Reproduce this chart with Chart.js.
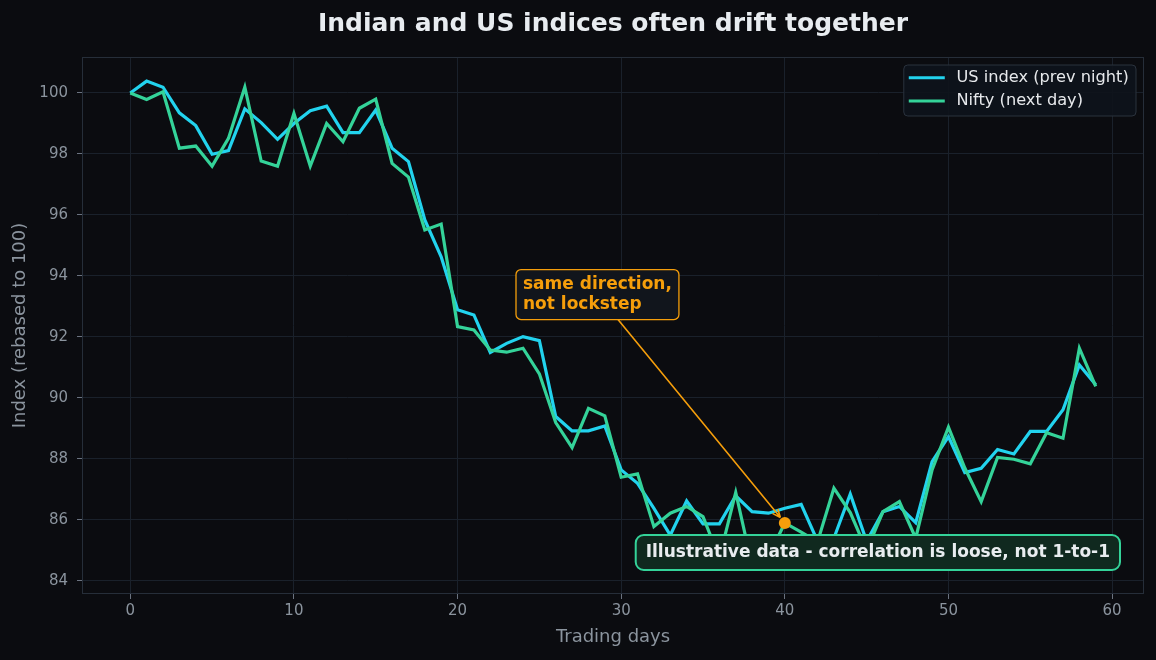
<!DOCTYPE html>
<html>
<head>
<meta charset="utf-8">
<script src="https://cdn.jsdelivr.net/npm/chart.js@4/dist/chart.umd.min.js"></script>
<style>
  html, body { margin: 0; padding: 0; background: #0b0c10; }
  canvas { display: block; }
</style>
</head>
<body>
<canvas id="chart" width="1156" height="660"></canvas>
<script>
// trading day index
const days = [0, 1, 2, 3, 4, 5, 6, 7, 8, 9, 10, 11, 12, 13, 14, 15, 16, 17, 18, 19,
  20, 21, 22, 23, 24, 25, 26, 27, 28, 29, 30, 31, 32, 33, 34, 35, 36, 37, 38, 39,
  40, 41, 42, 43, 44, 45, 46, 47, 48, 49, 50, 51, 52, 53, 54, 55, 56, 57, 58, 59];

// US index (prev night), rebased to 100
const usIndex = [100.0, 100.39, 100.19, 99.35, 98.93, 97.99, 98.11, 99.48, 99.03, 98.48,
  99.0, 99.42, 99.57, 98.70, 98.70, 99.44, 98.19, 97.75, 95.84, 94.63,
  92.89, 92.72, 91.49, 91.79, 92.01, 91.88, 89.39, 88.92, 88.92, 89.08,
  87.64, 87.2, 86.38, 85.5, 86.62, 85.87, 85.87, 86.79, 86.27, 86.22,
  86.38, 86.51, 85.3, 85.4, 86.85, 85.3, 86.27, 86.44, 85.91, 87.91,
  88.73, 87.55, 87.69, 88.31, 88.16, 88.9, 88.9, 89.61, 91.08, 90.43];

// Nifty (next day), rebased to 100
const nifty = [100.0, 99.79, 100.04, 98.19, 98.26, 97.6, 98.51, 100.19, 97.77, 97.6,
  99.33, 97.6, 99.0, 98.40, 99.5, 99.8, 97.69, 97.24, 95.51, 95.70,
  92.34, 92.23, 91.57, 91.50, 91.63, 90.79, 89.19, 88.37, 89.66, 89.41,
  87.40, 87.51, 85.78, 86.22, 86.44, 86.11, 84.75, 86.9, 84.5, 84.8,
  85.9, 85.6, 85.28, 87.04, 86.24, 85.0, 86.27, 86.6, 85.4, 87.64,
  89.04, 87.7, 86.6, 88.05, 87.99, 87.84, 88.86, 88.68, 91.63, 90.38];

const seriesNames = ['US index (prev night)', 'Nifty (next day)'];
const highlightDay = 40;

const FONT = '"DejaVu Sans", sans-serif';
const BLUE = '#22d3ee';
const GREEN = '#34d399';
const ORANGE = '#f59e0b';
const MUTED = '#8b949e';

function roundRect(ctx, x, y, w, h, r) {
  ctx.beginPath();
  ctx.moveTo(x + r, y);
  ctx.arcTo(x + w, y, x + w, y + h, r);
  ctx.arcTo(x + w, y + h, x, y + h, r);
  ctx.arcTo(x, y + h, x, y, r);
  ctx.arcTo(x, y, x + w, y, r);
  ctx.closePath();
}

// background, title, frame, annotations and legend
const decor = {
  id: 'decor',
  beforeDraw(chart) {
    const { ctx, width, height } = chart;
    ctx.save();
    ctx.fillStyle = '#0b0c10';
    ctx.fillRect(0, 0, width, height);
    ctx.restore();
  },
  afterDatasetsDraw(chart) {
    const { ctx, chartArea: a, scales: { x, y } } = chart;
    ctx.save();

    // frame
    ctx.strokeStyle = '#262e39';
    ctx.lineWidth = 1;
    ctx.strokeRect(a.left + 0.5, a.top + 0.5, a.right - a.left - 1, a.bottom - a.top - 1);

    // callout "same direction, not lockstep"
    const px = x.getPixelForValue(highlightDay);
    const py = y.getPixelForValue(nifty[highlightDay]);
    ctx.font = 'bold 17px ' + FONT;
    const lines = ['same direction,', 'not lockstep'];
    const tx = x.getPixelForValue(24.0);
    const tcy = y.getPixelForValue(93.39);
    const tw = Math.max(...lines.map(l => ctx.measureText(l).width));
    const bx = tx - 7, bw = tw + 14, by = tcy - 25, bh = 50;
    roundRect(ctx, bx, by, bw, bh, 5);
    ctx.fillStyle = '#11151c';
    ctx.fill();
    ctx.strokeStyle = ORANGE;
    ctx.lineWidth = 1.3;
    ctx.stroke();
    ctx.fillStyle = ORANGE;
    ctx.textBaseline = 'middle';
    ctx.textAlign = 'left';
    ctx.fillText(lines[0], tx, tcy - 10);
    ctx.fillText(lines[1], tx, tcy + 10);

    // arrow from box edge to the point
    const cx = bx + bw / 2, cy = by + bh / 2;
    const dx = px - cx, dy = py - cy;
    const sx = cx + dx * ((bh / 2) / dy), sy = by + bh;
    const len = Math.hypot(px - sx, py - sy);
    const ux = (px - sx) / len, uy = (py - sy) / len;
    const ex = px - ux * 7, ey = py - uy * 7;
    ctx.strokeStyle = ORANGE;
    ctx.lineWidth = 1.6;
    ctx.beginPath();
    ctx.moveTo(sx, sy);
    ctx.lineTo(ex, ey);
    const ang = Math.atan2(uy, ux);
    ctx.moveTo(ex, ey);
    ctx.lineTo(ex - 9 * Math.cos(ang - 0.4), ey - 9 * Math.sin(ang - 0.4));
    ctx.moveTo(ex, ey);
    ctx.lineTo(ex - 9 * Math.cos(ang + 0.4), ey - 9 * Math.sin(ang + 0.4));
    ctx.stroke();

    // bottom note
    const note = 'Illustrative data - correlation is loose, not 1-to-1';
    ctx.font = 'bold 17px ' + FONT;
    const nw = ctx.measureText(note).width + 20;
    const nh = 35;
    const nx = a.right - 24 - nw, ny = a.bottom - 24 - nh;
    roundRect(ctx, nx, ny, nw, nh, 8);
    ctx.fillStyle = '#10291f';
    ctx.fill();
    ctx.strokeStyle = GREEN;
    ctx.lineWidth = 2;
    ctx.stroke();
    ctx.fillStyle = '#e8ecef';
    ctx.textAlign = 'center';
    ctx.fillText(note, nx + nw / 2, ny + nh / 2 + 0.5);

    // legend
    ctx.font = '16.2px ' + FONT;
    const lw = 52 + Math.max(...seriesNames.map(s => ctx.measureText(s).width)) + 8;
    const lx = a.right - 8 - lw, ly = a.top + 8, lh = 51;
    roundRect(ctx, lx, ly, lw, lh, 4);
    ctx.fillStyle = 'rgba(14,19,27,0.92)';
    ctx.fill();
    ctx.strokeStyle = '#2a323d';
    ctx.lineWidth = 1;
    ctx.stroke();
    [BLUE, GREEN].forEach((c, i) => {
      const yy = ly + 12.7 + i * 23.3;
      ctx.strokeStyle = c;
      ctx.lineWidth = 3;
      ctx.beginPath();
      ctx.moveTo(lx + 5, yy);
      ctx.lineTo(lx + 41, yy);
      ctx.stroke();
      ctx.fillStyle = '#e6e8eb';
      ctx.textAlign = 'left';
      ctx.fillText(seriesNames[i], lx + 52.7, yy);
    });

    ctx.restore();
  },
  afterDraw(chart) {
    const { ctx, chartArea: a } = chart;
    ctx.save();
    ctx.font = 'bold 25px ' + FONT;
    ctx.fillStyle = '#e8ecf0';
    ctx.textAlign = 'center';
    ctx.textBaseline = 'middle';
    ctx.fillText('Indian and US indices often drift together', (a.left + a.right) / 2, 24);
    ctx.restore();
  }
};

const ctx = document.getElementById('chart').getContext('2d');
new Chart(ctx, {
  type: 'line',
  data: {
    datasets: [
      {
        label: 'highlight',
        data: [{ x: highlightDay, y: nifty[highlightDay] }],
        showLine: false,
        pointRadius: 6,
        pointBackgroundColor: ORANGE,
        pointBorderWidth: 0,
        order: 0
      },
      {
        label: seriesNames[1],
        data: days.map((d, i) => ({ x: d, y: nifty[i] })),
        borderColor: GREEN,
        borderWidth: 3.2,
        pointRadius: 0,
        tension: 0,
        order: 1
      },
      {
        label: seriesNames[0],
        data: days.map((d, i) => ({ x: d, y: usIndex[i] })),
        borderColor: BLUE,
        borderWidth: 3.2,
        pointRadius: 0,
        tension: 0,
        order: 2
      }
    ]
  },
  options: {
    responsive: false,
    devicePixelRatio: 1,
    animation: false,
    layout: { padding: { top: 57, right: 12, left: 0, bottom: 0 } },
    plugins: {
      legend: { display: false },
      tooltip: { enabled: false },
      title: { display: false }
    },
    scales: {
      x: {
        type: 'linear',
        min: -2.95,
        max: 61.95,
        afterFit: (s) => { s.height = 66; },
        border: { display: false },
        grid: { color: '#1a212b', tickColor: '#6b7380', tickLength: 5, lineWidth: 1 },
        ticks: { stepSize: 10, includeBounds: false, color: MUTED, padding: 3, font: { family: FONT, size: 15 } },
        title: { display: true, text: 'Trading days', color: MUTED, font: { family: FONT, size: 18 }, padding: { top: 0, bottom: 12 } }
      },
      y: {
        min: 83.57,
        max: 101.18,
        afterFit: (s) => { s.width = 82; },
        border: { display: false },
        grid: { color: '#1a212b', tickColor: '#6b7380', tickLength: 5, lineWidth: 1 },
        ticks: { stepSize: 2, includeBounds: false, color: MUTED, padding: 9, font: { family: FONT, size: 15 } },
        title: { display: true, text: 'Index (rebased to 100)', color: MUTED, font: { family: FONT, size: 18 }, padding: { top: 10, bottom: 0 } }
      }
    }
  },
  plugins: [decor]
});
</script>
</body>
</html>
